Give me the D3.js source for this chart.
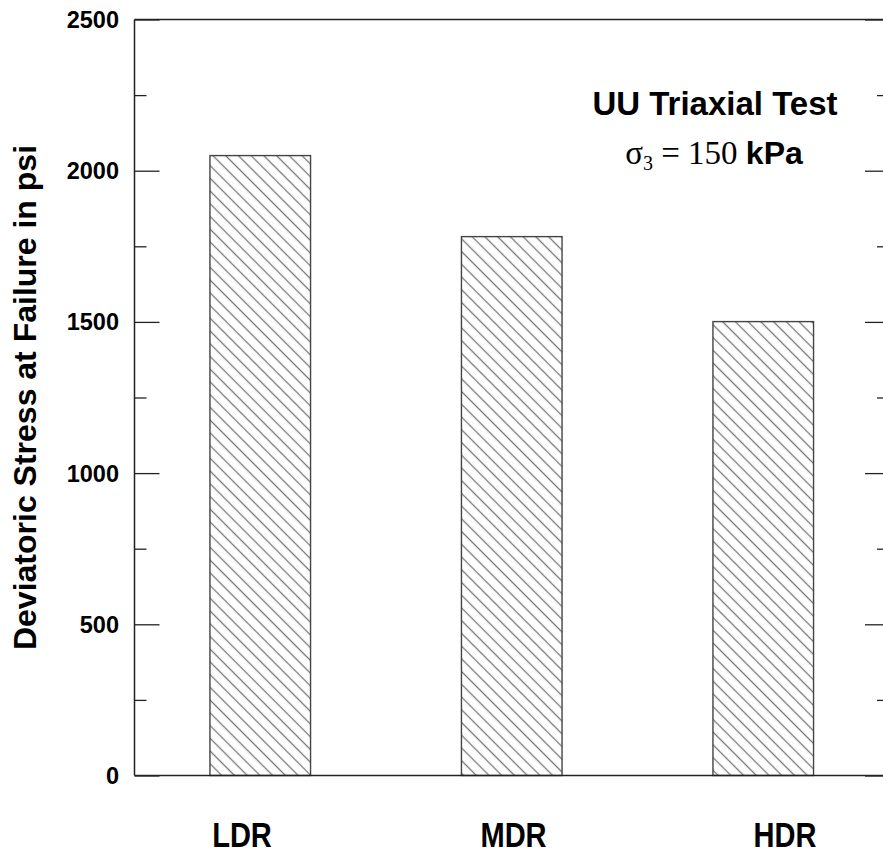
<!DOCTYPE html>
<html><head><meta charset="utf-8">
<script src="https://cdn.jsdelivr.net/npm/d3@7"></script>
<style>body{margin:0;background:#fff}svg{display:block}</style>
</head><body>
<script>
const categories = ["LDR", "MDR", "HDR"];
const values = [2050, 1782, 1501];
const majorTicks = [0, 500, 1000, 1500, 2000, 2500];
const minorTicks = [250, 750, 1250, 1750, 2250];
const yTitle = "Deviatoric Stress at Failure in psi";

(function () {
const W = 883, H = 854;
const pl = 134.5, pr = 889, pt = 19.5, pb = 775.5;
const svg = d3.select("body").append("svg").attr("width", W).attr("height", H);

const defs = svg.append("defs");
const pat = defs.append("pattern").attr("id", "hatch")
  .attr("patternUnits", "userSpaceOnUse").attr("width", 10).attr("height", 9)
  .attr("patternTransform", "rotate(45)");
pat.append("line").attr("x1", -1).attr("x2", 11).attr("y1", 4.5).attr("y2", 4.5)
  .attr("stroke", "#777").attr("stroke-width", 1.3);

const x = d3.scaleBand().domain(categories).range([pl, pr]).paddingInner(0.6).paddingOuter(0.3);
const xl = d3.scalePoint().domain(categories).range([242, 785]);
const y = d3.scaleLinear().domain([0, 2500]).range([pb, pt]);

// bars
svg.append("g").selectAll("rect").data(categories).join("rect")
  .attr("x", d => x(d)).attr("width", x.bandwidth())
  .attr("y", (d, i) => y(values[i])).attr("height", (d, i) => y(0) - y(values[i]))
  .attr("fill", "url(#hatch)").attr("stroke", "#444").attr("stroke-width", 1.4);

// frame
const ax = svg.append("g").attr("stroke", "#222").attr("stroke-width", 1.5).attr("fill", "none");
ax.append("line").attr("x1", pl).attr("x2", pl).attr("y1", pt).attr("y2", pb);
ax.append("line").attr("x1", pl).attr("x2", pr).attr("y1", pt).attr("y2", pt);
ax.append("line").attr("x1", pl).attr("x2", pr).attr("y1", pb).attr("y2", pb);
ax.append("line").attr("x1", pr).attr("x2", pr).attr("y1", pt).attr("y2", pb);

function ticks(pos, gen, vals, size) {
  const g = svg.append("g").attr("transform", `translate(${pos},0)`)
    .call(gen(y).tickValues(vals).tickSize(size).tickFormat(""));
  g.select(".domain").remove();
  g.selectAll("line").attr("stroke", "#222").attr("stroke-width", 1.3);
}
ticks(pl, d3.axisRight, majorTicks, 25);
ticks(pl, d3.axisRight, minorTicks, 12);
ticks(pr, d3.axisLeft, majorTicks, 24);
ticks(pr, d3.axisLeft, minorTicks, 12);

// tick labels
svg.append("g").selectAll("text").data(majorTicks).join("text")
  .attr("x", 119).attr("y", d => y(d)).attr("dy", "0.36em")
  .attr("text-anchor", "end").attr("font-family", "Liberation Sans, Arial, sans-serif")
  .attr("font-weight", "bold").attr("font-size", 23.5).attr("fill", "#000").text(d => d);

// category labels (condensed bold)
svg.append("g").selectAll("text").data(categories).join("text")
  .attr("transform", d => `translate(${xl(d)},847) scale(0.83,1)`)
  .attr("text-anchor", "middle").attr("font-family", "Liberation Sans, Arial, sans-serif")
  .attr("font-weight", "bold").attr("font-size", 35).attr("fill", "#000").text(d => d);

// y title
svg.append("text").attr("transform", `translate(36,${(pt + pb) / 2}) rotate(-90)`)
  .attr("text-anchor", "middle").attr("font-family", "Liberation Sans, Arial, sans-serif")
  .attr("font-weight", "bold").attr("font-size", 32).attr("fill", "#000").text(yTitle);

// annotation
svg.append("text").attr("x", 715).attr("y", 115).attr("text-anchor", "middle")
  .attr("font-family", "Liberation Sans, Arial, sans-serif").attr("font-weight", "bold")
  .attr("font-size", 33).attr("fill", "#000").text("UU Triaxial Test");
const t2 = svg.append("text").attr("x", 714).attr("y", 164).attr("text-anchor", "middle").attr("fill", "#000");
t2.append("tspan").attr("font-family", "Liberation Serif, Times New Roman, serif").attr("font-size", 33).text("σ");
t2.append("tspan").attr("font-family", "Liberation Serif, Times New Roman, serif").attr("font-size", 20).attr("dy", 6).text("3");
t2.append("tspan").attr("font-family", "Liberation Serif, Times New Roman, serif").attr("font-size", 33).attr("dy", -6).text(" = 150 ");
t2.append("tspan").attr("font-family", "Liberation Sans, Arial, sans-serif").attr("font-weight", "bold").attr("font-size", 32).text("kPa");
})();
</script>
</body></html>
